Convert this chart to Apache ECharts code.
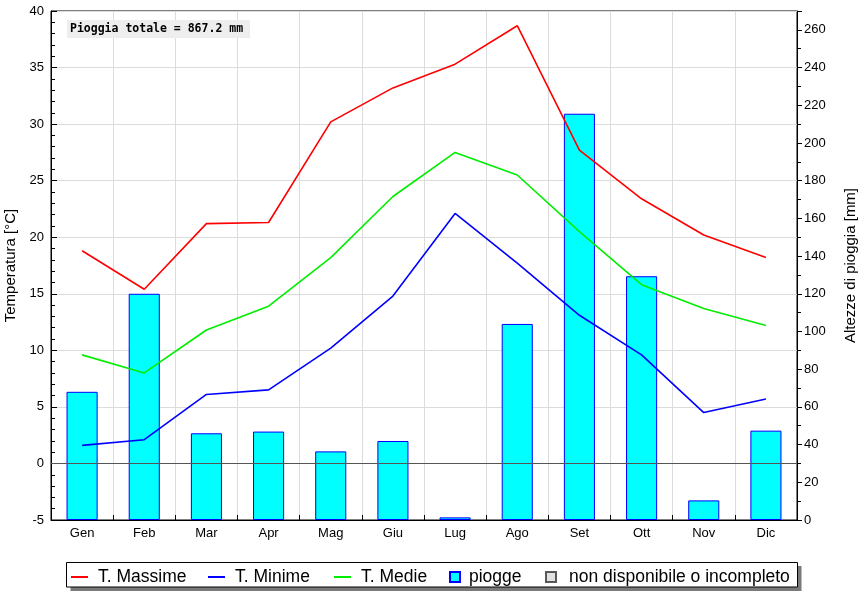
<!DOCTYPE html>
<html>
<head>
<meta charset="utf-8">
<script src="https://cdn.jsdelivr.net/npm/echarts@6/dist/echarts.min.js"></script>
<style>html,body{margin:0;padding:0;background:#fff;}#c{width:865px;height:600px;}</style>
</head>
<body>
<div id="c"></div>
<script>
const months = ['Gen','Feb','Mar','Apr','Mag','Giu','Lug','Ago','Set','Ott','Nov','Dic'];
const tMax = [18.8, 15.4, 21.2, 21.3, 30.2, 33.2, 35.3, 38.7, 27.7, 23.4, 20.2, 18.2];
const tMin = [1.6, 2.1, 6.1, 6.5, 10.2, 14.8, 22.1, 17.7, 13.1, 9.6, 4.5, 5.7];
const tMed = [9.6, 8.0, 11.8, 13.9, 18.2, 23.6, 27.5, 25.5, 20.5, 15.8, 13.7, 12.2];
const rain = [68.0, 120.0, 46.0, 46.9, 36.4, 41.9, 1.4, 104.0, 215.5, 129.3, 10.4, 47.4];
const annotation = 'Pioggia totale = 867.2 mm';
const FONT = 'Liberation Sans, Arial, sans-serif';

const chart = echarts.init(document.getElementById('c'), null, {renderer: 'canvas'});

function legendAt(name, left, icon, w, h, pad) {
  return {
    data: [name], left: left, top: 568, padding: 0,
    icon: icon, itemWidth: w, itemHeight: h, selectedMode: false,
    textStyle: {fontFamily: FONT, fontSize: 17.5, color: '#000', padding: [0, 0, 0, pad]}
  };
}

chart.setOption({
  animation: false,
  backgroundColor: '#fff',
  title: {
    text: annotation, left: 67, top: 20,
    backgroundColor: '#eeeeee', padding: [3, 7, 3, 3],
    textStyle: {fontFamily: 'DejaVu Sans Mono, monospace', fontWeight: 'bold', fontSize: 11.5, color: '#000', lineHeight: 12}
  },
  graphic: [
    {type: 'rect', shape: {x: 70.5, y: 566, width: 731, height: 25}, style: {fill: '#7a7a7a'}, z: -10, silent: true},
    {type: 'rect', shape: {x: 66.5, y: 562.5, width: 731, height: 24.5}, style: {fill: '#fff', stroke: '#000', lineWidth: 1}, z: -9, silent: true}
  ],
  legend: [
    legendAt('T. Massime', 71, 'rect', 17, 2, 5),
    legendAt('T. Minime', 208, 'rect', 17, 2, 5),
    legendAt('T. Medie', 334, 'rect', 17, 2, 5),
    legendAt('piogge', 449, 'rect', 10, 10, 4),
    legendAt('non disponibile o incompleto', 545, 'rect', 10, 10, 8)
  ],
  grid: {left: 51, right: 68, top: 11, bottom: 80, show: true, borderColor: '#000', borderWidth: 1,
    backgroundColor: '#fff', containLabel: false, outerBoundsMode: 'none'},
  xAxis: {
    type: 'category', data: months, boundaryGap: true,
    axisLine: {onZero: false, lineStyle: {color: '#000', width: 1}},
    axisTick: {show: true, inside: true, length: 5, lineStyle: {color: '#000'}},
    splitLine: {show: true, lineStyle: {color: '#dcdcdc', width: 1}},
    axisLabel: {fontFamily: FONT, fontSize: 13, color: '#000', margin: 7}
  },
  yAxis: [
    {
      type: 'value', position: 'left', min: -5, max: 40, interval: 5,
      name: 'Temperatura [°C]', nameLocation: 'middle', nameGap: 33, nameRotate: 90, nameMoveOverlap: false,
      nameTextStyle: {fontFamily: FONT, fontSize: 15, color: '#000'},
      axisLine: {show: true, onZero: false, lineStyle: {color: '#000'}},
      axisTick: {show: true, inside: true, length: 6, lineStyle: {color: '#000'}},
      minorTick: {show: true, splitNumber: 5, length: 4, lineStyle: {color: '#000'}},
      splitLine: {show: true, lineStyle: {color: '#dcdcdc', width: 1}},
      axisLabel: {fontFamily: FONT, fontSize: 13, color: '#000', margin: 7}
    },
    {
      type: 'value', position: 'right', min: 0, max: 270, interval: 20,
      name: 'Altezze di pioggia [mm]', nameLocation: 'middle', nameGap: 46, nameRotate: 90, nameMoveOverlap: false,
      nameTextStyle: {fontFamily: FONT, fontSize: 15, color: '#000'},
      axisLine: {show: true, onZero: false, lineStyle: {color: '#000'}},
      axisTick: {show: true, inside: false, length: 5, lineStyle: {color: '#000'}},
      minorTick: {show: true, splitNumber: 2, length: 4, lineStyle: {color: '#000'}},
      splitLine: {show: false},
      axisLabel: {fontFamily: FONT, fontSize: 13, color: '#000', margin: 7, showMaxLabel: false}
    }
  ],
  series: [
    {
      name: 'piogge', type: 'bar', yAxisIndex: 1, data: rain, barWidth: '50%',
      itemStyle: {color: '#00ffff', borderColor: '#0000ff', borderWidth: 1}
    },
    {
      name: 'non disponibile o incompleto', type: 'scatter', yAxisIndex: 1, data: [],
      itemStyle: {color: '#d9d9d9', borderColor: '#333', borderWidth: 1}
    },
    {
      name: 'T. Massime', type: 'line', data: tMax, symbol: 'none', z: 5,
      lineStyle: {color: '#ff0000', width: 1.6}, itemStyle: {color: '#ff0000'},
      markLine: {silent: true, symbol: 'none', label: {show: false},
        lineStyle: {color: '#555', width: 1, type: 'solid'}, data: [{yAxis: 0}]}
    },
    {
      name: 'T. Minime', type: 'line', data: tMin, symbol: 'none', z: 5,
      lineStyle: {color: '#0000ff', width: 1.6}, itemStyle: {color: '#0000ff'}
    },
    {
      name: 'T. Medie', type: 'line', data: tMed, symbol: 'none', z: 5,
      lineStyle: {color: '#00ee00', width: 1.6}, itemStyle: {color: '#00ee00'}
    }
  ]
});
</script>
</body>
</html>
